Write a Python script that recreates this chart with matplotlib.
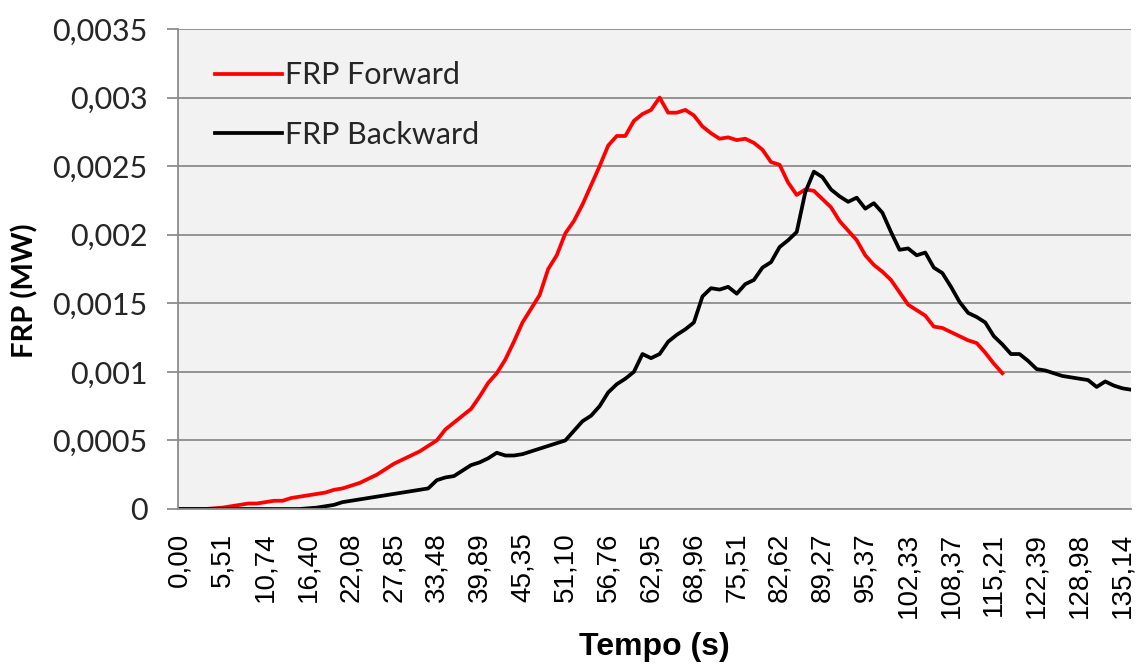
import numpy as np
import matplotlib
matplotlib.use("Agg")
import matplotlib.pyplot as plt
from matplotlib.ticker import FuncFormatter, MultipleLocator

# time labels shown on the category axis (one every 5 samples)
tempo_labels = ['0,00', '5,51', '10,74', '16,40', '22,08', '27,85', '33,48', '39,89',
                '45,35', '51,10', '56,76', '62,95', '68,96', '75,51', '82,62', '89,27',
                '95,37', '102,33', '108,37', '115,21', '122,39', '128,98', '135,14']
samples_per_label = 5

frp_forward = [
    0, 0, 0, 0, 0.000005, 0.00001, 0.00002, 0.00003, 0.00004, 0.00004,
    0.00005, 0.00006, 0.00006, 0.00008, 0.00009, 0.0001, 0.00011, 0.00012, 0.00014, 0.00015,
    0.00017, 0.00019, 0.00022, 0.00025, 0.00029, 0.00033, 0.00036, 0.00039, 0.00042, 0.00046,
    0.0005, 0.00058, 0.00063, 0.00068, 0.00073, 0.00082, 0.00092, 0.00099, 0.00109, 0.00122,
    0.00136, 0.00146, 0.00156, 0.00175, 0.00185, 0.00201, 0.0021, 0.00222, 0.00236, 0.0025,
    0.00265, 0.00272, 0.00272, 0.00283, 0.00288, 0.00291, 0.003, 0.00289, 0.00289, 0.00291,
    0.00287, 0.00279, 0.00274, 0.0027, 0.00271, 0.00269, 0.0027, 0.00267, 0.00262, 0.00253,
    0.00251, 0.00238, 0.00229, 0.00233, 0.00232, 0.00226, 0.0022, 0.0021, 0.00203, 0.00196,
    0.00185, 0.00178, 0.00173, 0.00167, 0.00158, 0.00149, 0.00145, 0.00141, 0.00133, 0.00132,
    0.00129, 0.00126, 0.00123, 0.00121, 0.00114, 0.00106, 0.00099]

frp_backward = [
    0, 0, 0, 0, 0, 0, 0, 0, 0, 0,
    0, 0, 0, 0, 0, 0.000005, 0.00001, 0.00002, 0.00003, 0.00005,
    0.00006, 0.00007, 0.00008, 0.00009, 0.0001, 0.00011, 0.00012, 0.00013, 0.00014, 0.00015,
    0.00021, 0.00023, 0.00024, 0.00028, 0.00032, 0.00034, 0.00037, 0.00041, 0.00039, 0.00039,
    0.0004, 0.00042, 0.00044, 0.00046, 0.00048, 0.0005, 0.00057, 0.00064, 0.00068, 0.00075,
    0.00085, 0.00091, 0.00095, 0.001, 0.00113, 0.0011, 0.00113, 0.00122, 0.00127, 0.00131,
    0.00136, 0.00155, 0.00161, 0.0016, 0.00162, 0.00157, 0.00164, 0.00167, 0.00176, 0.0018,
    0.00191, 0.00196, 0.00202, 0.00231, 0.00246, 0.00242, 0.00233, 0.00228, 0.00224, 0.00227,
    0.00219, 0.00223, 0.00216, 0.00202, 0.00189, 0.0019, 0.00185, 0.00187, 0.00176, 0.00172,
    0.00162, 0.00151, 0.00143, 0.0014, 0.00136, 0.00126, 0.0012, 0.00113, 0.00113, 0.00108,
    0.00102, 0.00101, 0.00099, 0.00097, 0.00096, 0.00095, 0.00094, 0.00089, 0.00093, 0.0009,
    0.00088, 0.00087]

fig = plt.figure(figsize=(11.38, 6.70), dpi=100)
ax = fig.add_axes([0.1564, 0.2403, 0.8374, 0.7164])
ax.set_facecolor('#f2f2f2')

ax.plot(np.arange(len(frp_forward)), frp_forward, color='#ff0000', lw=2.7, label='FRP Forward')
ax.plot(np.arange(len(frp_backward)), frp_backward, color='black', lw=2.7, label='FRP Backward')

ax.set_ylim(0, 0.0035)
ax.set_xlim(-0.2, len(frp_backward) - 1)
ax.yaxis.set_major_locator(MultipleLocator(0.0005))
ax.yaxis.set_major_formatter(FuncFormatter(lambda v, p: f"{v:g}".replace('.', ',')))
ax.grid(axis='y', color='#8c8c8c', lw=1.3)
ax.set_axisbelow(True)

ax.set_xticks(np.arange(len(tempo_labels)) * samples_per_label)
ax.set_xticklabels(tempo_labels, rotation=90, fontfamily='Liberation Sans', fontsize=20)

for s in ['top', 'right']:
    ax.spines[s].set_visible(False)
for s in ['left', 'bottom']:
    ax.spines[s].set_color('#8c8c8c')
    ax.spines[s].set_linewidth(1.3)

ax.tick_params(axis='x', length=0, pad=17)
ax.tick_params(axis='y', length=8, color='#8c8c8c', width=1.3, pad=14, labelsize=22)
for t in ax.get_yticklabels():
    t.set_fontfamily('Lato')
    t.set_color('#262626')

ax.set_xlabel('Tempo (s)', fontfamily='Liberation Sans', fontweight='bold', fontsize=23, labelpad=10)
ax.set_ylabel('FRP (MW)', fontfamily='Lato', fontweight='bold', fontsize=21)
ax.yaxis.set_label_coords(-0.146, 0.455)

leg = ax.legend(loc='upper left', bbox_to_anchor=(0.01, 0.99), frameon=False,
                prop={'family': 'Lato', 'size': 22}, handlelength=2.2,
                handletextpad=0.1, labelspacing=1.03)
for t in leg.get_texts():
    t.set_color('#262626')

fig.savefig('out.png', dpi=100)
